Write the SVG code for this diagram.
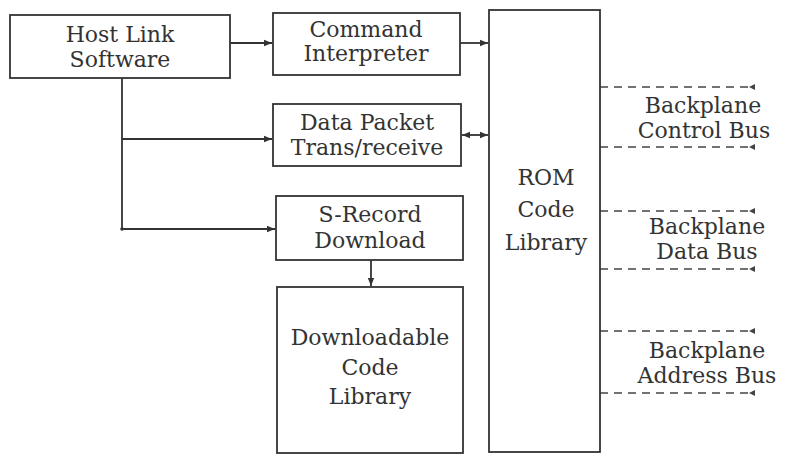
<svg xmlns="http://www.w3.org/2000/svg" width="789" height="454" viewBox="0 0 789 454">
<defs>
<style>
.box{fill:#fff;stroke:#333;stroke-width:1.8}
.t{font-family:"DejaVu Serif","Liberation Serif",serif;font-size:22px;fill:#333;text-anchor:middle}
.c{fill:none;stroke:#333;stroke-width:1.8}
.d{fill:none;stroke:#444;stroke-width:1.6;stroke-dasharray:8 6}
</style>
<marker id="ah" viewBox="0 0 10 10" refX="10" refY="5" markerWidth="8" markerHeight="8" markerUnits="userSpaceOnUse" orient="auto">
<path d="M0,1 L10,5 L0,9 z" fill="#333"/>
</marker>
<marker id="as" viewBox="0 0 10 10" refX="10" refY="5" markerWidth="8" markerHeight="8" markerUnits="userSpaceOnUse" orient="auto-start-reverse">
<path d="M0,1 L10,5 L0,9 z" fill="#333"/>
</marker>
<marker id="tick" viewBox="0 0 10 10" refX="10" refY="5" markerWidth="6" markerHeight="8" markerUnits="userSpaceOnUse" orient="auto">
<path d="M10,0 L0,5 L10,10 z" fill="#444"/>
</marker>
</defs>
<rect width="789" height="454" fill="#fff"/>
<g id="connectors">
<line class="c" x1="230" y1="43" x2="272" y2="43" marker-end="url(#ah)"/>
<line class="c" x1="460" y1="43" x2="488" y2="43" marker-end="url(#ah)"/>
<line class="c" x1="462" y1="135" x2="488" y2="135" marker-start="url(#as)" marker-end="url(#as)"/>
<polyline class="c" points="122,78 122,229 275,229" marker-end="url(#ah)"/>
<line class="c" x1="122" y1="139" x2="272" y2="139" marker-end="url(#ah)"/>
<circle cx="122" cy="229" r="1.8" fill="#333"/>
<line class="c" x1="371" y1="260" x2="371" y2="286" marker-end="url(#ah)"/>
<line class="d" x1="600" y1="87" x2="755" y2="87" marker-end="url(#tick)"/>
<line class="d" x1="600" y1="147" x2="755" y2="147" marker-end="url(#tick)"/>
<line class="d" x1="600" y1="211" x2="755" y2="211" marker-end="url(#tick)"/>
<line class="d" x1="600" y1="269" x2="755" y2="269" marker-end="url(#tick)"/>
<line class="d" x1="600" y1="331" x2="755" y2="331" marker-end="url(#tick)"/>
<line class="d" x1="600" y1="393" x2="755" y2="393" marker-end="url(#tick)"/>
</g>
<g id="host">
<rect class="box" x="10" y="15" width="220" height="63"/>
<text class="t" x="120" y="42">Host Link</text>
<text class="t" x="120" y="67">Software</text>
</g>
<g id="command">
<rect class="box" x="273" y="13" width="187" height="62"/>
<text class="t" x="366" y="37">Command</text>
<text class="t" x="366" y="61">Interpreter</text>
</g>
<g id="datapacket">
<rect class="box" x="273" y="104" width="188" height="62"/>
<text class="t" x="367" y="130">Data Packet</text>
<text class="t" x="367" y="155">Trans/receive</text>
</g>
<g id="srecord">
<rect class="box" x="276" y="196" width="187" height="64"/>
<text class="t" x="370" y="222">S-Record</text>
<text class="t" x="370" y="248">Download</text>
</g>
<g id="downloadable">
<rect class="box" x="277" y="287" width="186" height="166"/>
<text class="t" x="370" y="345">Downloadable</text>
<text class="t" x="370" y="375">Code</text>
<text class="t" x="370" y="404">Library</text>
</g>
<g id="rom">
<rect class="box" x="489" y="10" width="111" height="442"/>
<text class="t" x="546" y="185">ROM</text>
<text class="t" x="546" y="217">Code</text>
<text class="t" x="546" y="250">Library</text>
</g>
<g id="bus-control">
<text class="t" x="703" y="113">Backplane</text>
<text class="t" x="704" y="138">Control Bus</text>
</g>
<g id="bus-data">
<text class="t" x="707" y="234">Backplane</text>
<text class="t" x="707" y="259">Data Bus</text>
</g>
<g id="bus-address">
<text class="t" x="707" y="358">Backplane</text>
<text class="t" x="707" y="383">Address Bus</text>
</g>
</svg>
